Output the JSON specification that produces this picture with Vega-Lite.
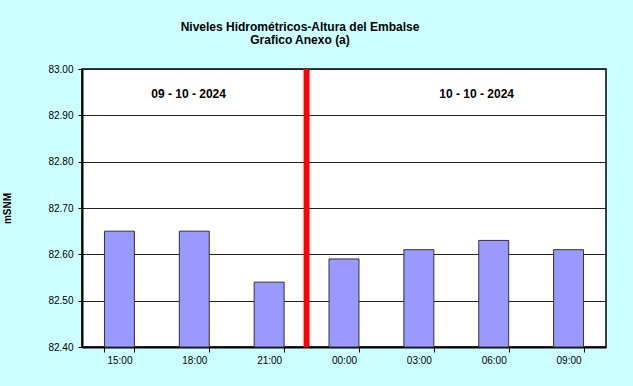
{
  "$schema": "https://vega.github.io/schema/vega-lite/v6.json",
  "width": 524,
  "height": 278,
  "autosize": {"type": "none"},
  "padding": {"left": 82, "top": 69, "right": 27, "bottom": 39},
  "background": "#CCFFFF",
  "title": {
    "text": ["Niveles Hidrométricos-Altura del Embalse", "Grafico Anexo (a)"],
    "font": "Liberation Sans",
    "fontSize": 12,
    "fontWeight": "bold",
    "color": "#000000",
    "lineHeight": 13,
    "dx": -44,
    "offset": 17
  },
  "config": {
    "font": "Liberation Sans",
    "view": {"stroke": "#000000", "strokeWidth": 1.5, "fill": "#FFFFFF"}
  },
  "data": {
    "values": [
      {"hora": "15:00", "nivel": 82.65},
      {"hora": "18:00", "nivel": 82.65},
      {"hora": "21:00", "nivel": 82.54},
      {"hora": "00:00", "nivel": 82.59},
      {"hora": "03:00", "nivel": 82.61},
      {"hora": "06:00", "nivel": 82.63},
      {"hora": "09:00", "nivel": 82.61}
    ]
  },
  "encoding": {
    "x": {
      "field": "hora",
      "type": "ordinal",
      "sort": null,
      "scale": {"paddingInner": 0.6, "paddingOuter": 0.3},
      "axis": {
        "title": null,
        "labelAngle": 0,
        "labelFont": "Liberation Sans",
        "labelFontSize": 10,
        "labelColor": "#000000",
        "labelPadding": 3,
        "tickBand": "extent",
        "tickSize": 5,
        "tickColor": "#000000",
        "domainColor": "#000000",
        "domainWidth": 2,
        "grid": false
      }
    }
  },
  "layer": [
    {
      "mark": {"type": "bar", "fill": "#9999FF", "stroke": "#333333", "strokeWidth": 1},
      "encoding": {
        "y": {
          "field": "nivel",
          "type": "quantitative",
          "stack": null,
          "scale": {"domain": [82.4, 83.0], "zero": false, "nice": false},
          "axis": {
            "title": "mSNM",
            "titleFont": "Liberation Sans",
            "titleFontSize": 10,
            "titleFontWeight": "bold",
            "titleColor": "#000000",
            "titlePadding": 35,
            "values": [82.4, 82.5, 82.6, 82.7, 82.8, 82.9, 83.0],
            "format": ".2f",
            "labelFont": "Liberation Sans",
            "labelFontSize": 10,
            "labelColor": "#000000",
            "labelPadding": 5,
            "tickSize": 4,
            "tickColor": "#000000",
            "domainColor": "#000000",
            "domainWidth": 2,
            "grid": true,
            "gridColor": "#222222",
            "gridWidth": 1
          }
        },
        "y2": {"datum": 82.4}
      }
    },
    {
      "data": {"values": [{}]},
      "mark": {"type": "rule", "color": "#FF0000", "strokeWidth": 6},
      "encoding": {
        "x": {"datum": "21:00", "type": "ordinal", "bandPosition": 1.75}
      }
    },
    {
      "data": {"values": [{"fecha": "09 - 10 - 2024"}]},
      "mark": {"type": "text", "font": "Liberation Sans", "fontSize": 12, "fontWeight": "bold", "color": "#000000", "align": "center", "baseline": "middle"},
      "encoding": {
        "x": {"datum": "18:00", "type": "ordinal", "bandPosition": 0.31},
        "y": {"datum": 82.945, "type": "quantitative"},
        "text": {"field": "fecha"}
      }
    },
    {
      "data": {"values": [{"fecha": "10 - 10 - 2024"}]},
      "mark": {"type": "text", "font": "Liberation Sans", "fontSize": 12, "fontWeight": "bold", "color": "#000000", "align": "center", "baseline": "middle"},
      "encoding": {
        "x": {"datum": "06:00", "type": "ordinal", "bandPosition": -0.07},
        "y": {"datum": 82.945, "type": "quantitative"},
        "text": {"field": "fecha"}
      }
    }
  ]
}
